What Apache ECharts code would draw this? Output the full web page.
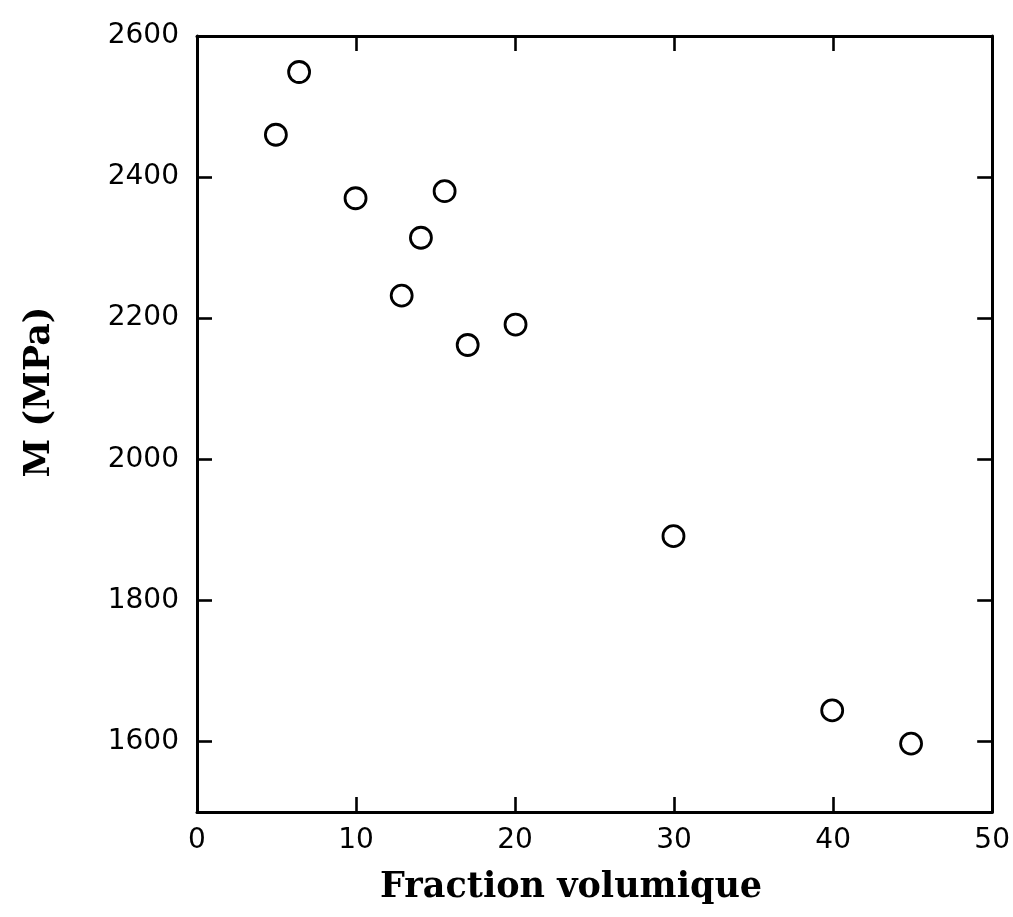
<!DOCTYPE html>
<html>
<head>
<meta charset="utf-8">
<script src="https://cdn.jsdelivr.net/npm/echarts@6/dist/echarts.min.js"></script>
<style>html,body{margin:0;padding:0;background:#fff}#c{width:1013px;height:917px}</style>
</head>
<body>
<div id="c"></div>
<script>
const xValues = [4.96, 6.42, 9.97, 12.87, 14.08, 15.57, 17.02, 20.03, 29.96, 39.94, 44.9];
const yValues = [2460, 2549, 2370, 2232, 2314, 2380, 2162, 2191, 1891, 1644, 1597];
const yTicks = [1600, 1800, 2000, 2200, 2400, 2600];
const xTitle = 'Fraction volumique';
const yTitle = 'M (MPa)';

const points = xValues.map((x, i) => [x, yValues[i]]);
const ink = '#000';
const tickStyle = { show: true, inside: true, length: 15, lineStyle: { color: ink, width: 2.6 } };
const lineStyle = { show: true, onZero: false, lineStyle: { color: ink, width: 3 } };
const labelFont = { fontFamily: 'DejaVu Sans', fontSize: 28, color: ink, formatter: v => String(v) };
const titleFont = { fontFamily: 'DejaVu Serif', fontWeight: 'bold', fontSize: 35, color: ink };

const chart = echarts.init(document.getElementById('c'), null, { renderer: 'canvas' });
chart.setOption({
  animation: false,
  backgroundColor: '#fff',
  grid: { left: 197, right: 18, top: 36, bottom: 105, containLabel: false },
  xAxis: [
    {
      type: 'value', position: 'bottom', min: 0, max: 50, interval: 10,
      axisLine: lineStyle, axisTick: tickStyle, splitLine: { show: false },
      axisLabel: Object.assign({ margin: 15 }, labelFont),
      name: xTitle, nameLocation: 'middle', nameGap: 58,
      nameTextStyle: Object.assign({ padding: [0, 47, 0, 0] }, titleFont)
    },
    {
      type: 'value', position: 'top', min: 0, max: 50, interval: 10,
      axisLine: lineStyle, axisTick: tickStyle, splitLine: { show: false },
      axisLabel: { show: false }
    }
  ],
  yAxis: [
    {
      type: 'value', position: 'left', min: 1500, max: 2600,
      axisLine: lineStyle,
      axisTick: Object.assign({ customValues: yTicks }, tickStyle),
      splitLine: { show: false },
      axisLabel: Object.assign({ margin: 18, customValues: yTicks }, labelFont),
      name: yTitle, nameLocation: 'middle', nameGap: 140, nameRotate: 90,
      nameTextStyle: Object.assign({ padding: [0, 0, 0, 64] }, titleFont)
    },
    {
      type: 'value', position: 'right', min: 1500, max: 2600,
      axisLine: lineStyle,
      axisTick: Object.assign({ customValues: yTicks }, tickStyle),
      splitLine: { show: false },
      axisLabel: { show: false }
    }
  ],
  series: [{
    type: 'scatter',
    xAxisIndex: 0, yAxisIndex: 0,
    data: points,
    symbol: 'circle',
    symbolSize: 21,
    itemStyle: { color: '#fff', borderColor: ink, borderWidth: 2.8, opacity: 1 }
  }]
});
</script>
</body>
</html>
